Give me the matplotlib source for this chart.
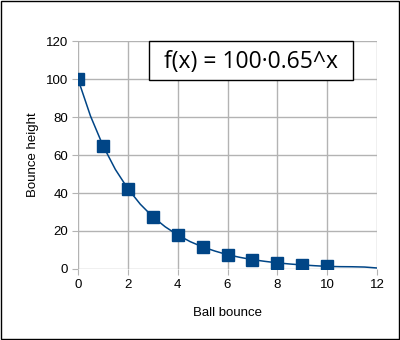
import matplotlib.pyplot as plt
from matplotlib.patches import Rectangle

# data points (markers)
bounce = [0, 1, 2, 3, 4, 5, 6, 7, 8, 9, 10]
height = [100, 65, 42.3, 27.5, 17.9, 11.6, 7.5, 4.9, 3.2, 2.1, 1.35]

# smooth trend line
curve_x = [0, 0.5, 1, 1.5, 2, 2.5, 3, 3.5, 4, 4.5, 5, 5.5, 6, 6.5, 7, 7.5,
           8, 8.5, 9, 9.5, 10, 10.5, 11, 11.5, 12]
curve_y = [100, 80.6, 65, 52.4, 42.3, 34.1, 27.5, 22.2, 17.9, 14.4, 11.6, 9.4,
           7.5, 6.1, 4.9, 4.0, 3.2, 2.6, 2.1, 1.7, 1.35, 1.2, 1.15, 1.0, 0.5]

xticks = [0, 2, 4, 6, 8, 10, 12]
yticks = [0, 20, 40, 60, 80, 100, 120]

blue = '#004586'
grey = '#b3b3b3'

plt.rcParams['font.family'] = ['Liberation Sans', 'DejaVu Sans']

fig = plt.figure(figsize=(4, 3.4), dpi=100)
ax = fig.add_axes([0.195, 0.209, 0.7475, 0.67])

ax.plot(curve_x, curve_y, color=blue, linewidth=1.1, zorder=3)
ax.plot(bounce, height, linestyle='none', marker='s', markersize=8.5,
        color=blue, zorder=4)

ax.set_xlim(0, 12)
ax.set_ylim(0, 120)
ax.set_xticks(xticks)
ax.set_yticks(yticks)
ax.grid(True, color=grey, linewidth=1)
ax.set_axisbelow(True)
for s in ax.spines.values():
    s.set_visible(False)
ax.tick_params(length=4, color=grey, labelsize=9.5, pad=3)

ax.set_xlabel('Ball bounce', fontsize=9.5, labelpad=12)
ax.set_ylabel('Bounce height', fontsize=9.5, labelpad=5)

# equation box
ax.add_patch(Rectangle((0.2375, 0.829), 0.6825, 0.171, transform=ax.transAxes,
                       facecolor='white', edgecolor='black', linewidth=1,
                       zorder=5, clip_on=False))
ax.text(0.579, 0.91, 'f(x) = 100·0.65^x', transform=ax.transAxes,
        fontsize=16.5, family=['Open Sans', 'DejaVu Sans'], ha='center',
        va='center', zorder=6)

fig.patches.append(Rectangle((0.003, 0.003), 0.994, 0.994, transform=fig.transFigure,
                             fill=False, edgecolor='black', linewidth=1))

fig.savefig('out.png', dpi=100)
